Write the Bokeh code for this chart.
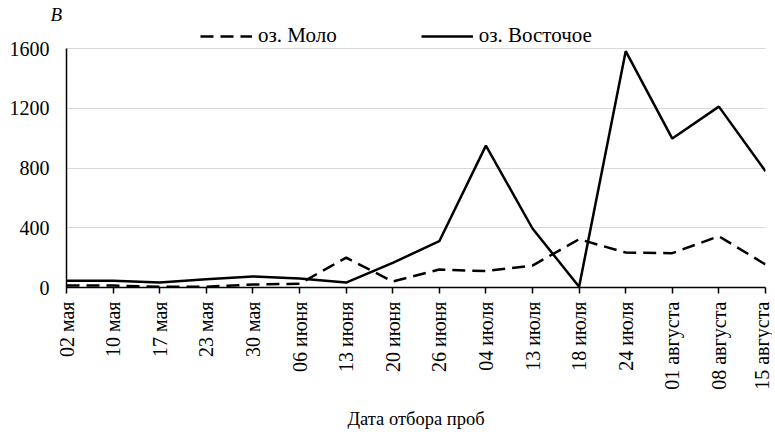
from bokeh.plotting import figure
from bokeh.models import Range1d, FixedTicker, Legend, LegendItem, Title
from bokeh.embed import file_html
from bokeh.resources import INLINE
import math

dates = ["02 мая", "10 мая", "17 мая", "23 мая", "30 мая", "06 июня", "13 июня",
         "20 июня", "26 июня", "04 июля", "13 июля", "18 июля", "24 июля",
         "01 августа", "08 августа", "15 августа"]
molo = [13, 13, 5, 5, 20, 25, 200, 40, 120, 110, 147, 323, 234, 230, 343, 154]
vostochnoe = [45, 45, 33, 55, 74, 60, 33, 165, 310, 950, 395, 5, 1582, 997, 1211, 778]
y_ticks = [0, 400, 800, 1200, 1600]

FONT = "Liberation Serif"
xs = list(range(len(dates)))

H = 432
TOP = 24          # frame top (px)
AX0 = 287         # pixel row of value 0
AX1600 = 48       # pixel row of value 1600
ymax = 1600 * (AX0 - TOP) / (AX0 - AX1600)

p = figure(width=772, height=H, output_backend="svg", toolbar_location=None,
           x_range=Range1d(0, len(dates) - 1), y_range=Range1d(0, ymax),
           min_border_left=66, min_border_right=7, min_border_top=TOP,
           min_border_bottom=H - AX0)
p.outline_line_color = None
p.background_fill_color = "white"
p.border_fill_color = "white"

r_molo = p.line(xs, molo, line_color="black", line_width=2.5, line_dash="13 7")
r_vost = p.line(xs, vostochnoe, line_color="black", line_width=2.5)

p.xgrid.grid_line_color = None
p.ygrid.grid_line_color = "#d9d9d9"
p.ygrid.grid_line_width = 1

xa = p.xaxis[0]
xa.ticker = FixedTicker(ticks=xs)
xa.major_label_overrides = {i: d for i, d in enumerate(dates)}
xa.major_label_orientation = math.pi / 2
xa.major_label_text_font = FONT
xa.major_label_text_font_size = "20px"
xa.major_label_text_color = "black"
xa.major_tick_out = 6
xa.major_tick_in = 0
xa.minor_tick_out = 0
xa.minor_tick_in = 0
xa.major_label_standoff = 8
xa.axis_line_color = "black"
xa.axis_line_width = 1.5
xa.major_tick_line_color = "black"
xa.major_tick_line_width = 1.5
xa.axis_label = "Дата отбора проб"
xa.axis_label_text_font = FONT
xa.axis_label_text_font_style = "normal"
xa.axis_label_text_font_size = "18.5px"
xa.axis_label_text_color = "black"
xa.axis_label_standoff = 16

ya = p.yaxis[0]
ya.ticker = FixedTicker(ticks=y_ticks)
ya.bounds = (0, 1600)
ya.major_label_text_font = FONT
ya.major_label_text_font_size = "20px"
ya.major_label_text_color = "black"
ya.major_tick_out = 0
ya.major_tick_in = 0
ya.minor_tick_out = 0
ya.minor_tick_in = 0
ya.major_label_standoff = 17
ya.axis_line_color = "black"
ya.axis_line_width = 1.5

legend = Legend(items=[LegendItem(label="оз. Моло", renderers=[r_molo]),
                       LegendItem(label="оз. Восточое", renderers=[r_vost])],
                orientation="horizontal", location=(134, AX0 - 48),
                label_text_font=FONT, label_text_font_size="21px",
                label_text_color="black", glyph_width=52, glyph_height=20,
                label_height=20, label_standoff=6, spacing=84, padding=0,
                margin=0, border_line_color=None, background_fill_alpha=0)
p.add_layout(legend, "center")

ylab = Title(text="B", align="left", offset=-16, standoff=0,
             text_font=FONT, text_font_size="19px", text_font_style="italic",
             text_color="black")
p.add_layout(ylab, "above")

open("out.html", "w").write(file_html(p, INLINE))
